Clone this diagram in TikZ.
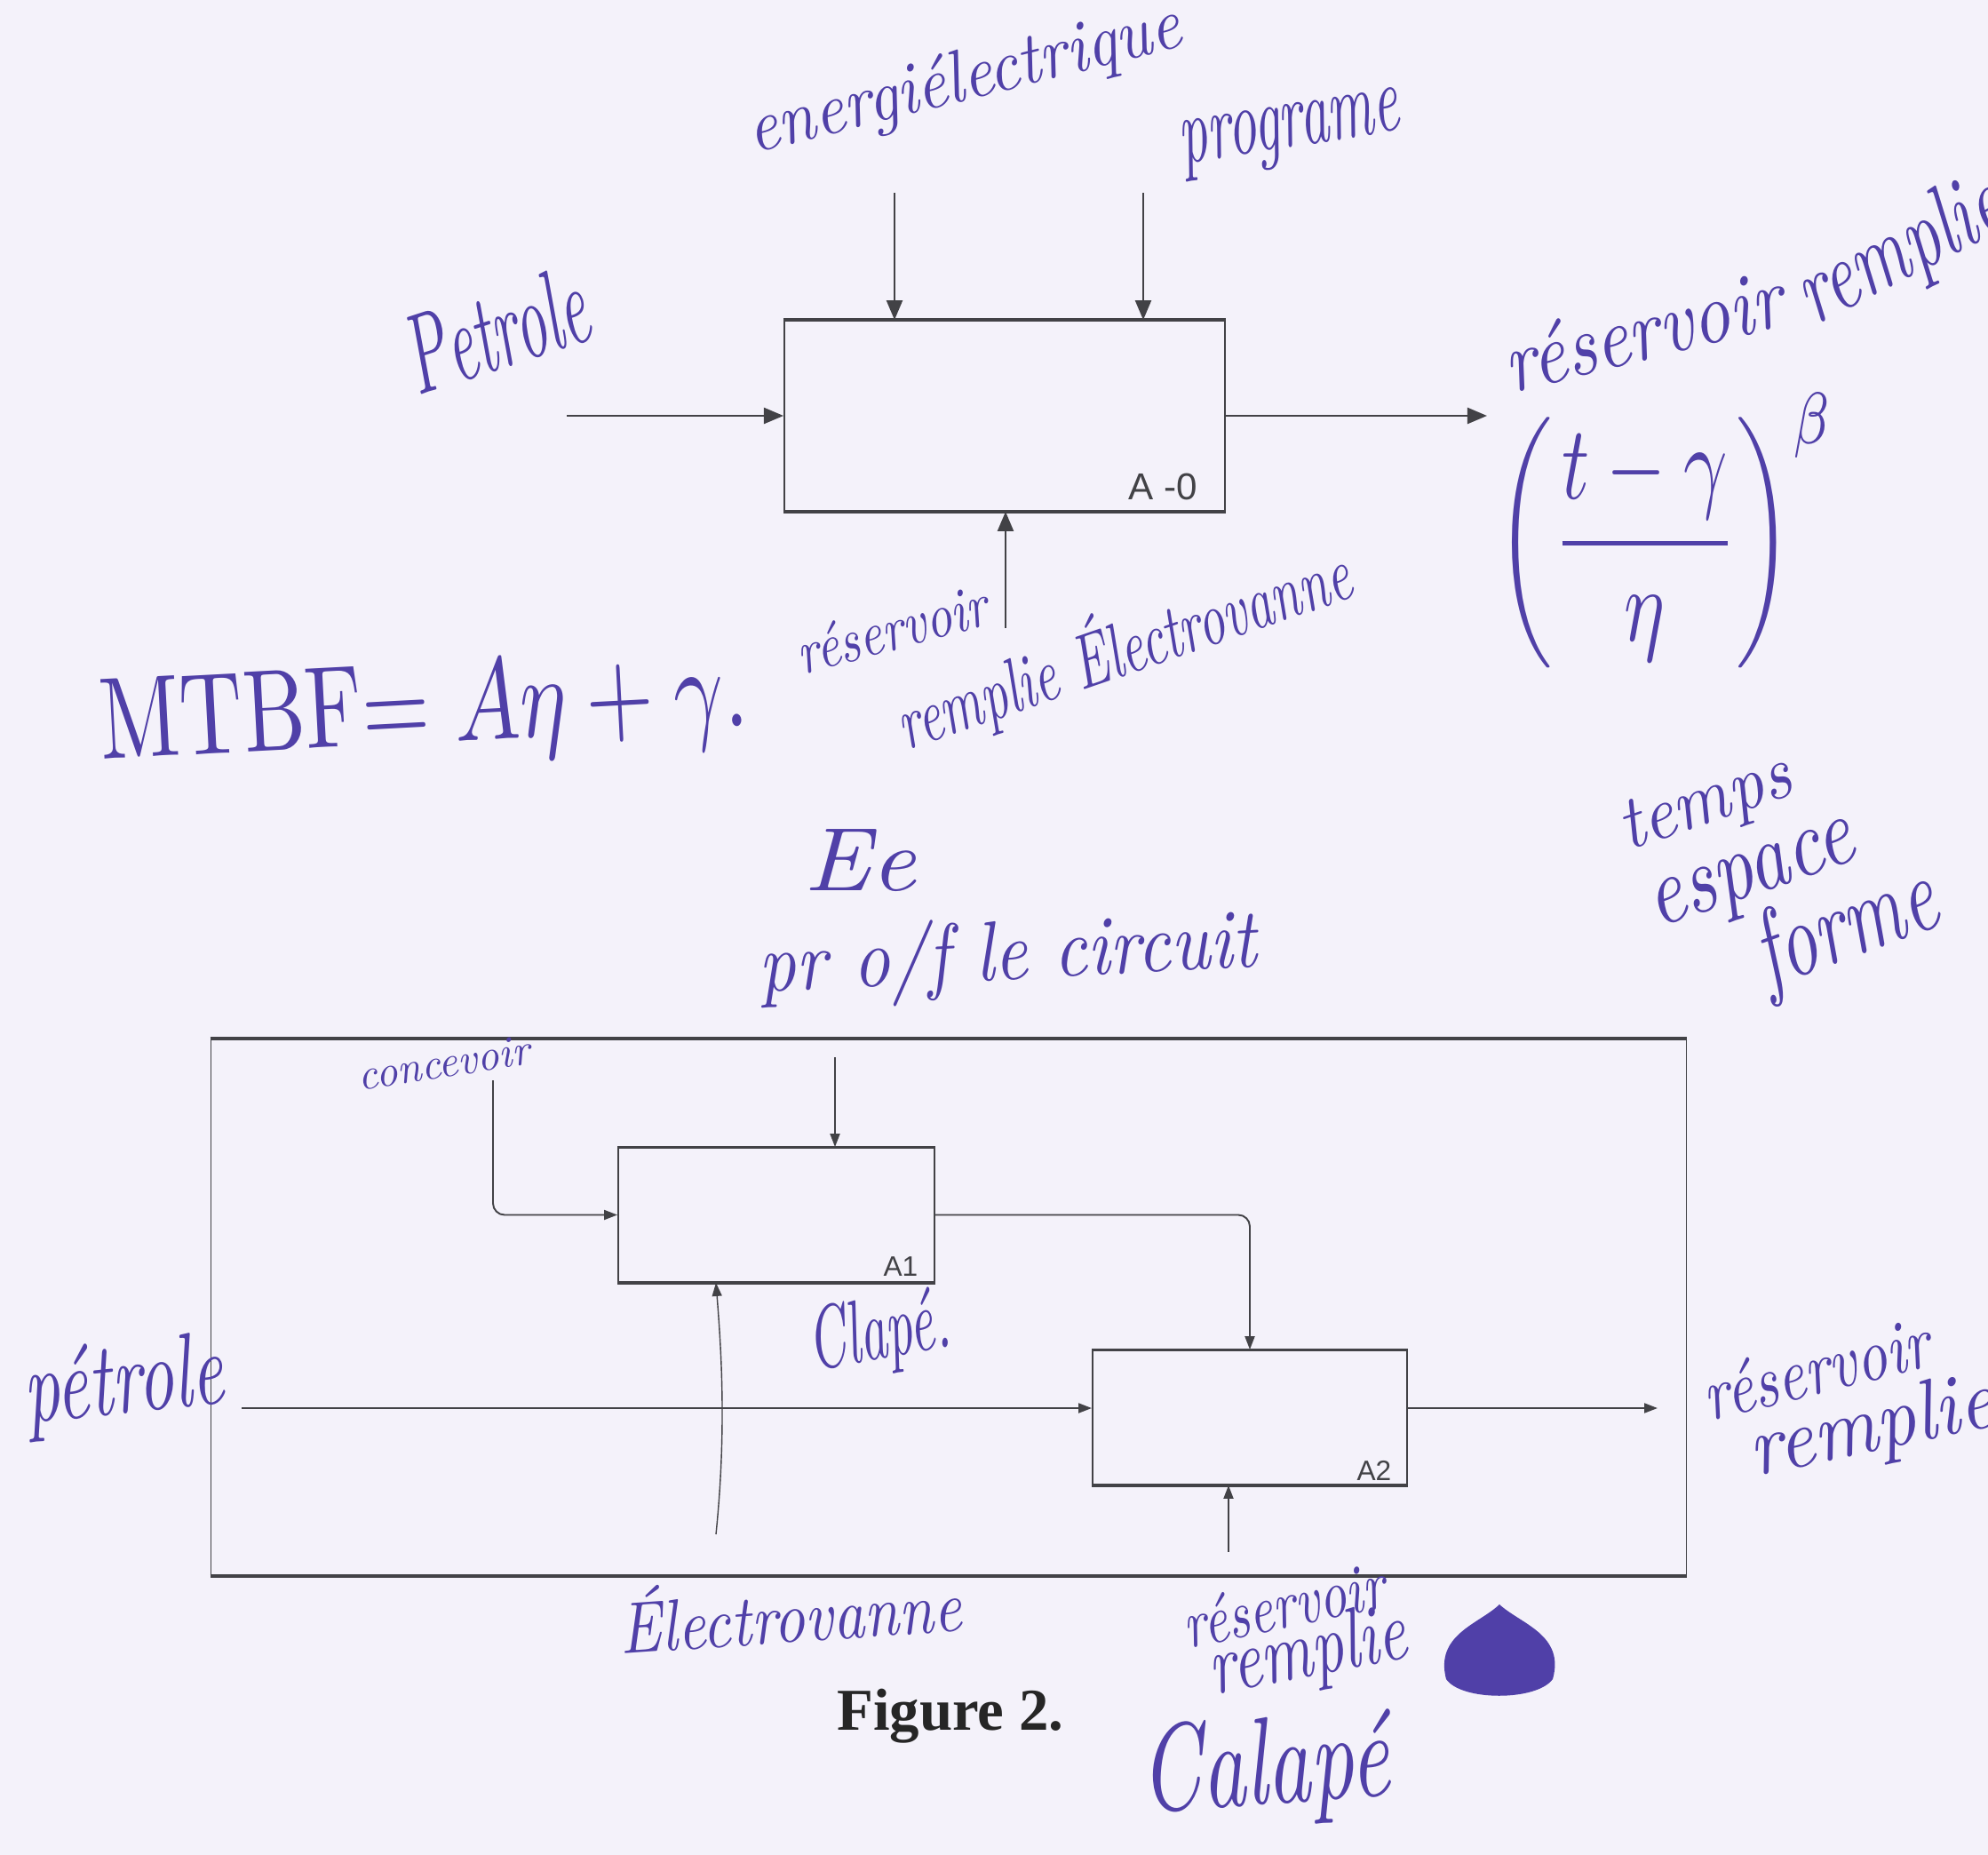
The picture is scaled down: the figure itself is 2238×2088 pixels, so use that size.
\documentclass[tikz,border=0pt]{standalone}
\usepackage{fontspec}
\usepackage{graphicx}
\usetikzlibrary{arrows.meta}
\newfontfamily\lblfont{Liberation Sans}
\newfontfamily\figfont{Liberation Serif}
\definecolor{paper}{RGB}{244,242,250}
\definecolor{ink}{RGB}{80,64,168}
\definecolor{pen}{RGB}{66,66,70}
\newcommand{\hw}[3]{\resizebox*{#1}{#2}{\itshape #3}}
\begin{document}
\begin{tikzpicture}[x=0.01cm, y=-0.01cm,
  box/.style={draw=pen, line width=0.5pt, inner sep=0pt},
  edge/.style={draw=pen, line width=1.1pt},
  arr/.style={draw=pen, line width=0.65pt, -{Triangle[length=2.2mm, width=1.8mm]}},
  sarr/.style={draw=pen, line width=0.55pt, -{Triangle[length=1.5mm, width=1.1mm]}},
  hand/.style={text=ink, inner sep=0pt},
  lbl/.style={text=pen, inner sep=0pt, font=\lblfont\fontsize{12}{14}\selectfont},
  slbl/.style={text=pen, inner sep=0pt, font=\lblfont\fontsize{9}{11}\selectfont}]

\path[use as bounding box, fill=paper] (0,0) rectangle (2238,2088);

% ---------- top diagram A-0 ----------
\node[box, minimum width=4.96cm, minimum height=2.14cm] (A0) at (1131,468) {};
\draw[edge] (A0.north west) -- (A0.north east) (A0.south west) -- (A0.south east);
\node[lbl, anchor=base east] (lA0) at (1349,562) {A -0};

\coordinate (c1) at (1007,217);
\coordinate (c2) at (1287,217);
\coordinate (i0) at (638,468);
\coordinate (o0) at (1674,468);
\coordinate (m0) at (1132,707);
\draw[arr] (c1) -- (c1 |- A0.north);
\draw[arr] (c2) -- (c2 |- A0.north);
\draw[arr] (i0) -- (A0.west);
\draw[arr] (A0.east) -- (o0);
\draw[arr] (m0) -- (m0 |- A0.south);

% ---------- bottom diagram ----------
\node[box, minimum width=16.6cm, minimum height=6.03cm] (F) at (1068,1471.5) {};
\draw[edge] (F.north west) -- (F.north east) (F.south west) -- (F.south east);
\node[box, minimum width=3.56cm, minimum height=1.51cm] (A1) at (874,1367.5) {};
\draw[edge, line width=0.9pt] (A1.north west) -- (A1.north east) (A1.south west) -- (A1.south east);
\node[box, minimum width=3.54cm, minimum height=1.51cm] (A2) at (1407,1595.5) {};
\draw[edge, line width=0.9pt] (A2.north west) -- (A2.north east) (A2.south west) -- (A2.south east);
\node[slbl, anchor=base east] (lA1) at (1034,1436) {A1};
\node[slbl, anchor=base east] (lA2) at (1567,1666) {A2};

\coordinate (cA1) at (940,1190);
\coordinate (cc) at (555,1216);
\coordinate (pin) at (272,1585);
\coordinate (pout) at (1866,1585);
\coordinate (mA1) at (806,1727);
\coordinate (mA2) at (1383,1747);
\draw[sarr] (cA1) -- (cA1 |- A1.north);
\draw[sarr, rounded corners=1.3mm] (cc) |- (A1.west);
\draw[sarr, rounded corners=1.3mm] (A1.east) -| (A2.north);
\draw[sarr] (pin) -- (pin -| A2.west);
\draw[sarr] (pin -| A2.east) -- (pout);
\draw[sarr, line width=0.4pt] (mA1) .. controls (818,1610) and (812,1520) .. (mA1 |- A1.south);
\draw[sarr] (mA2) -- (mA2 |- A2.south);

% ---------- handwriting ----------
\node[hand, anchor=base, rotate=14] (t1) at (1091,112) {\hw{5.0cm}{0.75cm}{energiélectrique}};
\node[hand, anchor=base, rotate=9] (t2) at (1455,165) {\hw{2.5cm}{0.7cm}{programe}};
\node[hand, anchor=base, rotate=18] (t3) at (570,413) {\hw{2.1cm}{0.9cm}{Petrole}};
\node[hand, anchor=base, rotate=14] (t4) at (1857,404) {\hw{3.2cm}{0.7cm}{réservoir}};
\node[hand, anchor=base west, rotate=27] (t5) at (2042,367) {\hw{2.5cm}{1.0cm}{remplie}};
\node[hand, anchor=south west] (fml) at (1684,753) {\resizebox*{3.8cm}{3.1cm}{$\displaystyle\left(\frac{t-\gamma}{\eta}\right)^{\beta}$}};
\node[hand, anchor=base west, rotate=3] (mtbf) at (114,855) {\resizebox*{7.3cm}{1.15cm}{$\mathrm{MTBF}{=}\;A\eta+\gamma.$}};
\node[hand, anchor=base, rotate=15] (t6) at (1010,731) {\hw{2.2cm}{0.5cm}{réservoir}};
\node[hand, anchor=base west, rotate=19] (t7) at (1020,845) {\hw{5.35cm}{0.95cm}{remplie Électrovanne}};
\node[hand, anchor=base west] (t8) at (905,1002) {\hw{1.25cm}{0.7cm}{Ee}};
\node[hand, anchor=base west, rotate=3] (t9) at (855,1117) {\hw{5.6cm}{0.95cm}{pr o/f le circuit}};
\node[hand, anchor=base west, rotate=19] (t10) at (1832,958) {\hw{2.0cm}{0.7cm}{temps}};
\node[hand, anchor=base west, rotate=19] (t11) at (1865,1045) {\hw{2.4cm}{0.7cm}{espace}};
\node[hand, anchor=base west, rotate=20] (t12) at (1990,1112) {\hw{2.1cm}{1.1cm}{forme}};

\node[hand, anchor=base west, rotate=9] (b1) at (405,1228) {\hw{1.95cm}{0.33cm}{concevoir}};
\node[hand, anchor=base west, rotate=10] (b2) at (915,1543) {\hw{1.6cm}{0.9cm}{Clapé.}};
\node[hand, anchor=base west, rotate=6] (b3) at (30,1602) {\hw{2.25cm}{1.05cm}{pétrole}};
\node[hand, anchor=base west, rotate=14] (b4) at (1924,1600) {\hw{2.6cm}{0.6cm}{réservoir}};
\node[hand, anchor=base west, rotate=12] (b5) at (1975,1662) {\hw{2.8cm}{0.85cm}{remplie}};
\node[hand, anchor=base west, rotate=4] (b6) at (699,1862) {\hw{3.85cm}{0.75cm}{Électrovanne}};
\node[hand, anchor=base west, rotate=12] (b7) at (1337,1856) {\hw{2.3cm}{0.55cm}{réservoir}};
\node[hand, anchor=base west, rotate=11] (b8) at (1366,1908) {\hw{2.25cm}{0.85cm}{remplie}};
\node[hand, anchor=base west, rotate=4] (b9) at (1286,2040) {\hw{2.8cm}{1.25cm}{Calapé}};
\fill[ink] (1628,1890) .. controls (1615,1840) and (1665,1828) .. (1688,1806)
  .. controls (1712,1828) and (1762,1840) .. (1748,1890)
  .. controls (1730,1915) and (1645,1915) .. cycle;

\node[text=black!85, inner sep=0pt, anchor=base, font=\figfont\bfseries\fontsize{19}{22}\selectfont] (fig) at (1070,1947) {Figure 2.};
\end{tikzpicture}
\end{document}
